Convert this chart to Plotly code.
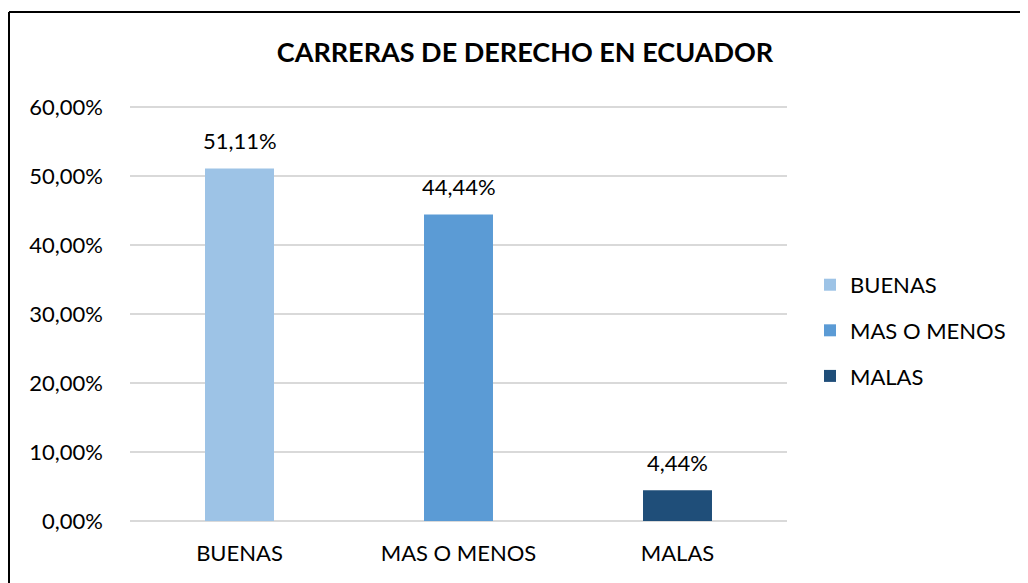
import plotly.graph_objects as go

categories = ["BUENAS", "MAS O MENOS", "MALAS"]
values = [0.5111, 0.4444, 0.0444]
colors = ["#9DC3E6", "#5B9BD5", "#1F4E79"]
y_ticks = [0, 0.1, 0.2, 0.3, 0.4, 0.5, 0.6]

FONT = "Lato, Calibri, Open Sans, sans-serif"

# page body has an 8px margin; compensate so the picture lands like the reference
FW, FH = 1020, 575
L, T, W, H = 122, 97, 657, 416

fig = go.Figure()
for c, v, col in zip(categories, values, colors):
    fig.add_trace(go.Bar(
        x=[c], y=[v], name=c, marker=dict(color=col, line=dict(width=0)),
        width=0.315, legendgroup=c,
    ))
    fig.add_annotation(
        x=c, y=v, text=f"{v*100:.2f}%".replace(".", ","), showarrow=False,
        yanchor="bottom", yshift=12, font=dict(family=FONT, size=22, color="#000000"),
    )

bx0 = (1 - L) / W
by1 = (T + H - 4) / H
fig.update_layout(
    width=FW, height=FH,
    margin=dict(l=L, r=FW - L - W, t=T, b=FH - T - H),
    paper_bgcolor="white", plot_bgcolor="white",
    barmode="overlay",
    separators=",.",
    font=dict(family=FONT, size=22, color="#000000"),
    title=dict(text="<b>CARRERAS DE DERECHO EN ECUADOR</b>", x=517 / FW, xanchor="center",
               y=1 - 45 / FH, yanchor="middle", yref="container",
               font=dict(family=FONT, size=27, color="#000000")),
    xaxis=dict(showgrid=False, showline=False, ticks="", tickfont=dict(size=22),
               ticklabelstandoff=17),
    yaxis=dict(range=[0, 0.603], tickvals=y_ticks, tickformat=".2%", showgrid=True,
               gridcolor="#D9D9D9", gridwidth=1.5, zeroline=True, zerolinecolor="#D9D9D9",
               zerolinewidth=1.5, showline=False, ticks="", ticklen=0,
               tickfont=dict(size=22), ticklabelstandoff=26),
    legend=dict(x=1.035, y=0.618, xanchor="left", yanchor="top", tracegroupgap=14,
                font=dict(size=22), bgcolor="rgba(0,0,0,0)"),
    showlegend=True,
    shapes=[
        dict(type="line", xref="paper", yref="paper", x0=bx0, x1=bx0, y0=-0.3, y1=by1,
             line=dict(color="black", width=2), layer="above"),
        dict(type="line", xref="paper", yref="paper", x0=bx0, x1=(FW + 20 - L) / W,
             y0=by1, y1=by1, line=dict(color="black", width=2), layer="above"),
    ],
)

fig.write_html("out.html")
